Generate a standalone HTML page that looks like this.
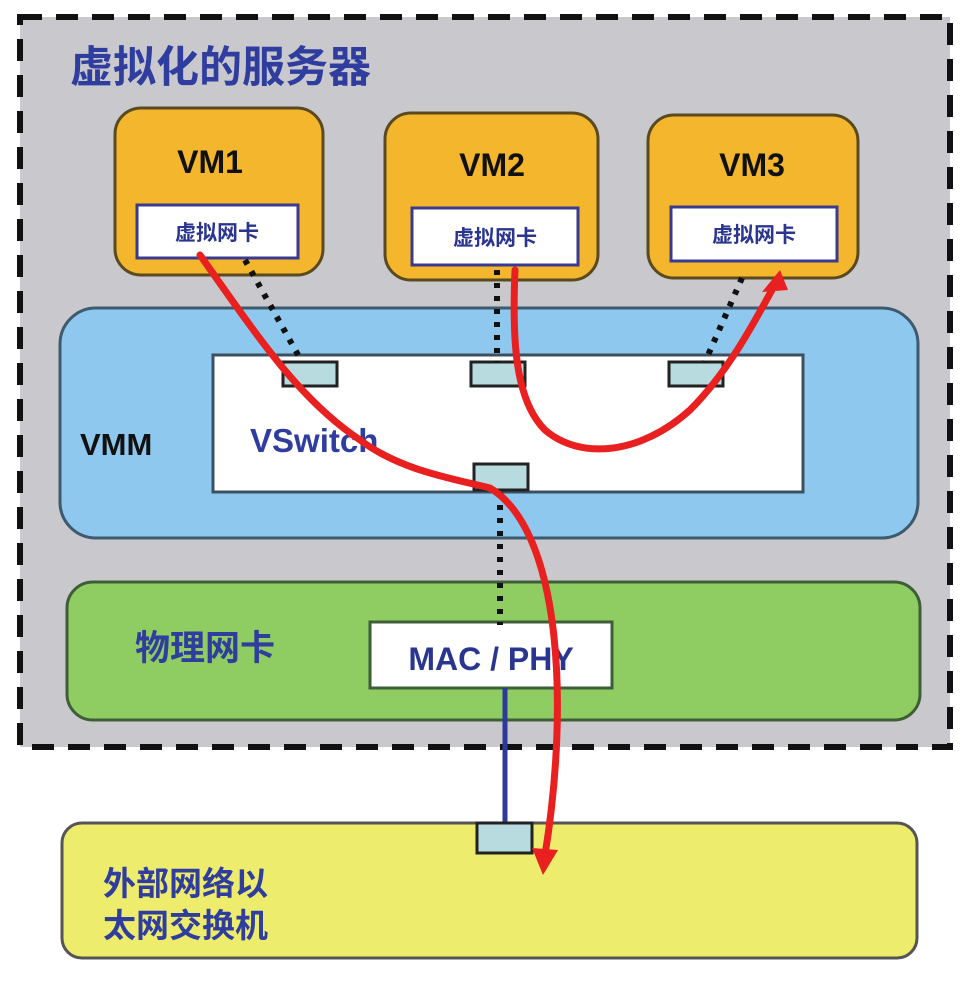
<!DOCTYPE html>
<html><head><meta charset="utf-8"><style>
html,body{margin:0;padding:0;background:#fff;}
svg{display:block;}
text{font-family:"Liberation Sans","Noto Sans CJK SC",sans-serif;font-weight:bold;}
</style></head><body>
<svg width="974" height="983" viewBox="0 0 974 983" xmlns="http://www.w3.org/2000/svg">
<rect x="20" y="17" width="930" height="730" fill="#c9c9cd" stroke="#111" stroke-width="6" stroke-dasharray="22 14"/>
<text x="70" y="82" font-size="43" fill="#2f3d9e">虚拟化的服务器</text>

<g stroke="#5a4a20" stroke-width="3" fill="#f4b62c">
<rect x="115" y="108" width="208" height="167" rx="26"/>
<rect x="385" y="113" width="213" height="167" rx="26"/>
<rect x="648" y="115" width="210" height="163" rx="26"/>
</g>
<g font-size="32" fill="#111" text-anchor="middle">
<text x="210" y="173">VM1</text><text x="492" y="176">VM2</text><text x="752" y="176">VM3</text>
</g>
<g stroke="#3a3a90" stroke-width="3" fill="#fff">
<rect x="137" y="205" width="161" height="53"/>
<rect x="412" y="208" width="166" height="57"/>
<rect x="671" y="207" width="166" height="54"/>
</g>
<g font-size="21" fill="#2a3590" text-anchor="middle">
<text x="217" y="240">虚拟网卡</text><text x="495" y="245">虚拟网卡</text><text x="754" y="242">虚拟网卡</text>
</g>

<rect x="60" y="308" width="858" height="230" rx="36" fill="#8fc8ee" stroke="#3d5a6e" stroke-width="3"/>
<rect x="213" y="355" width="590" height="137" fill="#fff" stroke="#3d5060" stroke-width="3"/>
<text x="80" y="455" font-size="31" fill="#111">VMM</text>
<text x="250" y="452" font-size="33" fill="#2f3d9e">VSwitch</text>
<g fill="#b8dbe0" stroke="#222" stroke-width="3">
<rect x="283" y="362" width="54" height="24"/>
<rect x="471" y="362" width="54" height="24"/>
<rect x="669" y="362" width="54" height="24"/>
<rect x="474" y="464" width="54" height="26"/>
</g>

<rect x="67" y="582" width="853" height="138" rx="26" fill="#8fcc62" stroke="#3e5e38" stroke-width="3"/>
<text x="135" y="660" font-size="35" fill="#2f3d9e">物理网卡</text>
<rect x="370" y="622" width="242" height="66" fill="#fff" stroke="#3e5e38" stroke-width="3"/>
<text x="491" y="670" font-size="32" fill="#2a3590" text-anchor="middle">MAC / PHY</text>

<rect x="62" y="823" width="855" height="135" rx="20" fill="#eeec6c" stroke="#555" stroke-width="3"/>
<text x="103" y="895" font-size="33" fill="#2f3d9e">外部网络以</text>
<text x="103" y="937" font-size="33" fill="#2f3d9e">太网交换机</text>

<g stroke="#111" stroke-width="6" stroke-dasharray="5 8" fill="none">
<line x1="245" y1="260" x2="302" y2="362"/>
<line x1="497" y1="270" x2="497" y2="362"/>
<line x1="742" y1="278" x2="705" y2="362"/>
<line x1="500" y1="492" x2="500" y2="625"/>
</g>
<line x1="505" y1="688" x2="505" y2="825" stroke="#2c3a9a" stroke-width="5"/>
<rect x="477" y="823" width="55" height="30" fill="#b8dbe0" stroke="#222" stroke-width="3"/>

<g stroke="#e82020" stroke-width="7" fill="none" stroke-linecap="round">
<path d="M200,255 C260,340 300,400 360,440 C400,470 450,478 490,488 C560,530 570,700 545,855"/>
<path d="M515,270 C512,340 515,400 545,430 C580,460 640,455 690,410 C730,370 755,320 772,290"/>
</g>
<polygon points="532,848 558,850 543,875" fill="#e82020"/>
<polygon points="762,292 788,290 780,270" fill="#e82020"/>
</svg>
</body></html>
